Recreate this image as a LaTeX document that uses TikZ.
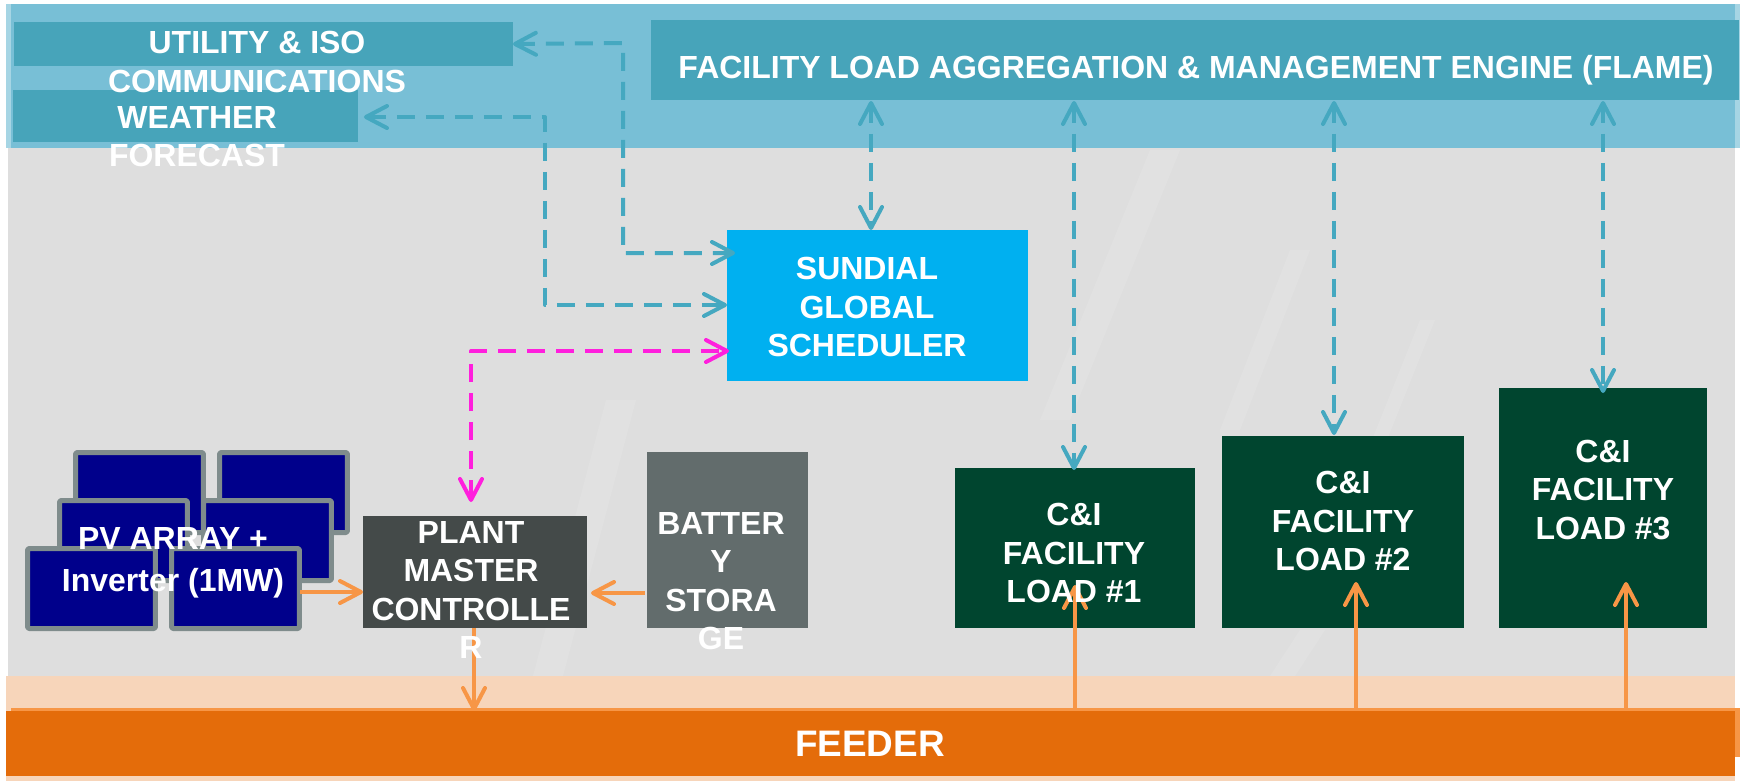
\documentclass[tikz,border=0pt]{standalone}
\usepackage{fontspec}
\setmainfont{Liberation Sans}
\usetikzlibrary{arrows.meta}
\definecolor{bandblue}{HTML}{78BFD6}
\definecolor{edgeblue}{HTML}{A6D5E4}
\definecolor{headblue}{HTML}{47A4BA}
\definecolor{dashblue}{HTML}{45A8C0}
\definecolor{skyblue}{HTML}{00B0F0}
\definecolor{plantgrey}{HTML}{444A49}
\definecolor{batgrey}{HTML}{626C6C}
\definecolor{loadgreen}{HTML}{00452F}
\definecolor{feederorange}{HTML}{E46C0A}
\definecolor{palepeach}{HTML}{F7D5BA}
\definecolor{wireorange}{HTML}{F79646}
\definecolor{panelblue}{HTML}{00008B}
\definecolor{panelframe}{HTML}{7F8C8C}
\definecolor{hotpink}{HTML}{FF1FDD}
\tikzset{
	blockbox/.style={rectangle, inner sep=0pt, outer sep=0pt},
	pvpanel/.style={rectangle, inner sep=0pt, draw=panelframe, fill=panelblue, line width=0.1cm, rounded corners=0.03cm, minimum width=2.56cm, minimum height=1.6cm},
	boxtext/.style={text=white, align=center, inner sep=0pt, font=\fontsize{18.2}{21.8}\selectfont\bfseries},
	dashwire/.style={dashblue, line width=0.08cm, dash pattern=on 0.36cm off 0.22cm},
	pinkwire/.style={hotpink, line width=0.08cm, dash pattern=on 0.36cm off 0.22cm},
	powerwire/.style={wireorange, line width=0.08cm}
}
\begin{document}
\begin{tikzpicture}[x=0.02cm, y=-0.02cm, line join=round, >={Straight Barb[length=0.42cm, width=0.44cm, round]}]
	\useasboundingbox (0,0) rectangle (1740,781);
	% background bands
	\fill[black!13] (8,148) rectangle (1735,676);
	\foreach \tx/\ty/\bx/\by/\wid in {1150/150/1040/420/30, 1290/250/1220/430/20, 1420/320/1340/520/15, 606/400/533/676/30, 1300/630/1270/676/25}
		\fill[white, opacity=0.1] (\tx,\ty) -- ++(\wid,0) -- (\bx+\wid,\by) -- (\bx,\by) -- cycle;
	\fill[edgeblue] (6,4) rectangle (1740,148);
	\fill[bandblue] (11,4) rectangle (1735,148);
	\fill[palepeach] (6,676) rectangle (1735,781);
	\fill[wireorange] (11,708) rectangle (1740,712);
	\fill[wireorange] (1735,708) rectangle (1740,757);
	
	\node[blockbox, fill=feederorange, minimum width=34.58cm, minimum height=1.3cm] (feeder) at (870.5,743.5) {};
	\node[blockbox, fill=headblue, minimum width=9.98cm, minimum height=0.88cm] (utility) at (263.5,44) {};
	\node[blockbox, fill=headblue, minimum width=6.9cm, minimum height=1.04cm] (weather) at (185.5,116) {};
	\node[blockbox, fill=headblue, minimum width=21.76cm, minimum height=1.6cm] (flame) at (1195,60) {};
	\node[blockbox, fill=skyblue, minimum width=6.02cm, minimum height=3.02cm] (sundial) at (877.5,305.5) {};
	\node[blockbox, fill=plantgrey, minimum width=4.48cm, minimum height=2.24cm] (plant) at (475,572) {};
	\node[blockbox, fill=batgrey, minimum width=3.22cm, minimum height=3.52cm] (battery) at (727.5,540) {};
	\node[blockbox, fill=loadgreen, minimum width=4.8cm, minimum height=3.2cm] (loadA) at (1075,548) {};
	\node[blockbox, fill=loadgreen, minimum width=4.84cm, minimum height=3.84cm] (loadB) at (1343,532) {};
	\node[blockbox, fill=loadgreen, minimum width=4.16cm, minimum height=4.8cm] (loadC) at (1603,508) {};
	
	% pv panels, back row first
	\foreach \name/\px/\py in {pA/139.5/492.5, pB/283.5/492.5, pC/123.5/540.5, pD/267.5/540.5, pE/91.5/588.5, pF/235.5/588.5}
		\node[pvpanel] (\name) at (\px,\py) {};
	
	\path
	(623,43) coordinate (utilA)
	(623,253) coordinate (utilB)
	(735,253) coordinate (utilC)
	(545,117) coordinate (weatherA)
	(545,305) coordinate (weatherB)
	(727,305) coordinate (weatherC)
	(471,351) coordinate (pinkA)
	(729,351) coordinate (pinkB)
	(471,502) coordinate (pinkC)
	(300,592) coordinate (pvout)
	(645,593) coordinate (batout)
	(591,593) coordinate (batin)
	(474,628) coordinate (plantout)
	(1075,708) coordinate (feedA)
	(1356,711) coordinate (feedB)
	(1626,708) coordinate (feedC)
	(1075,585) coordinate (tipA)
	(1356,582) coordinate (tipB)
	(1626,582) coordinate (tipC)
	(871,101) coordinate (flameS)
	(1074,101) coordinate (flameA)
	(1334,101) coordinate (flameB)
	(1603,101) coordinate (flameC)
	(1074,470) coordinate (dropA)
	(1334,435) coordinate (dropB)
	(1603,393) coordinate (dropC)
	;
	
	% dashed links
	\draw[dashwire, <->] (utility.east) -- (utilA) -- (utilB) -- (utilC);
	\draw[dashwire, <->] (weather.east) ++(6,1) -- (weatherA) -- (weatherB) -- (weatherC);
	\draw[pinkwire, <->] (pinkC) -- (pinkA) -- (pinkB);
	\draw[dashwire, <->] (flameS) -- (flameS |- sundial.north);
	\draw[dashwire, <->] (flameA) -- (dropA);
	\draw[dashwire, <->] (flameB) -- (dropB);
	\draw[dashwire, <->] (flameC) -- (dropC);
	
	% power links
	\draw[powerwire, ->] (pvout) -- (plant.west |- pvout);
	\draw[powerwire, ->] (batout) -- (batin);
	\draw[powerwire, ->] (plantout) -- (plantout |- feeder.north);
	\draw[powerwire, ->] (feedA) -- (tipA);
	\draw[powerwire, ->] (feedB) -- (tipB);
	\draw[powerwire, ->] (feedC) -- (tipC);
	
	% labels
	\node[boxtext] (utilitytxt) at (257,62) {UTILITY \& ISO\\COMMUNICATIONS};
	\node[boxtext] (weathertxt) at (197,137) {WEATHER\\FORECAST};
	\node[boxtext] (flametxt) at (1196,70) {FACILITY LOAD AGGREGATION \& MANAGEMENT ENGINE (FLAME)};
	\node[boxtext] (sundialtxt) at (867,307) {SUNDIAL\\GLOBAL\\SCHEDULER};
	\node[boxtext] (pvtxt) at (173,563) {PV ARRAY +\\[2pt]Inverter (1MW)};
	\node[boxtext] (planttxt) at (471,590) {PLANT\\MASTER\\CONTROLLE\\R};
	\node[boxtext] (batterytxt) at (721,581) {BATTER\\Y\\STORA\\GE};
	\node[boxtext] (loadAtxt) at (1074,553) {C\&I\\FACILITY\\LOAD \#1};
	\node[boxtext] (loadBtxt) at (1343,521) {C\&I\\FACILITY\\LOAD \#2};
	\node[boxtext] (loadCtxt) at (1603,490) {C\&I\\FACILITY\\LOAD \#3};
	\node[boxtext, font=\fontsize{21}{25}\selectfont\bfseries] (feedertxt) at (870,744) {FEEDER};
\end{tikzpicture}
\end{document}
